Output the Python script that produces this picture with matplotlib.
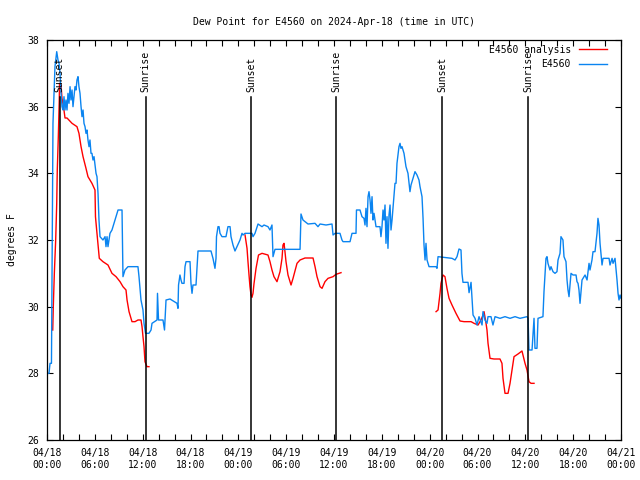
#-------------------------------------------------------------------------------
# Dew point time series for station E4560, observed vs analysis,
# with sunset / sunrise markers (times in hours after 2024-04-18 00:00 UTC)
#-------------------------------------------------------------------------------

import matplotlib
matplotlib.use('Agg')
import matplotlib.pyplot as plt
import matplotlib.dates as mdates
import pandas as pd

start = pd.Timestamp('2024-04-18 00:00')

# observed dew point (E4560)
obs_hours = [0.00, 0.25, 0.38, 0.56, 0.63, 0.75, 0.88, 1.00, 1.22, 1.38, 1.51, 1.63,
             1.76, 1.88, 2.01, 2.13, 2.26, 2.38, 2.51, 2.63, 2.76, 2.89, 3.01, 3.14,
             3.26, 3.39, 3.51, 3.64, 3.76, 3.89, 4.01, 4.14, 4.27, 4.39, 4.52, 4.64,
             4.77, 4.89, 5.02, 5.14, 5.27, 5.39, 5.52, 5.64, 5.77, 5.90, 6.15, 6.27,
             6.40, 6.52, 6.65, 7.02, 7.28, 7.40, 7.53, 7.65, 7.90, 8.15, 8.53, 8.91,
             9.41, 9.53, 9.78, 10.16, 11.41, 11.54, 11.79, 12.04, 12.17, 12.36, 12.79, 13.05,
             13.17, 13.80, 13.86, 13.99, 14.55, 14.74, 14.93, 15.43, 16.31, 16.43, 16.50, 16.68,
             16.81, 16.93, 17.19, 17.31, 17.44, 17.94, 18.06, 18.19, 18.31, 18.69, 18.82, 18.94,
             20.57, 20.82, 21.07, 21.20, 21.26, 21.45, 21.58, 21.70, 21.95, 22.45, 22.70, 22.96,
             23.08, 23.33, 23.58, 23.83, 24.21, 24.46, 24.59, 24.84, 25.71, 25.84, 26.09, 26.47,
             26.97, 27.22, 27.72, 27.97, 28.22, 28.35, 28.60, 31.74, 31.86, 32.11, 32.74, 33.62,
             33.99, 34.25, 35.00, 35.75, 35.88, 36.13, 36.75, 37.00, 37.13, 38.01, 38.26, 38.76,
             38.82, 39.26, 39.51, 39.76, 39.89, 40.01, 40.14, 40.27, 40.39, 40.52, 40.64, 40.77,
             40.89, 41.02, 41.27, 41.77, 41.89, 42.02, 42.15, 42.27, 42.40, 42.52, 42.65, 42.77,
             42.90, 43.03, 43.15, 43.28, 43.40, 43.65, 43.78, 43.90, 44.15, 44.28, 44.40, 44.53,
             44.78, 45.03, 45.28, 45.53, 45.66, 45.91, 46.16, 46.41, 46.66, 46.79, 47.04, 47.17,
             47.29, 47.42, 47.54, 47.67, 47.92, 48.80, 48.92, 49.05, 50.80, 51.18, 51.43, 51.68,
             51.93, 52.05, 52.18, 52.81, 52.94, 53.19, 53.44, 53.69, 53.94, 54.19, 54.57, 54.69,
             54.94, 55.19, 55.32, 55.69, 55.94, 56.20, 56.82, 57.45, 58.08, 58.71, 59.33, 60.21,
             60.34, 60.46, 60.84, 61.09, 61.21, 61.46, 61.59, 62.21, 62.34, 62.47, 62.59, 62.72,
             62.84, 63.09, 63.22, 63.47, 63.72, 63.97, 64.10, 64.35, 64.47, 64.72, 64.85, 65.10,
             65.23, 65.35, 65.48, 65.73, 65.98, 66.36, 66.48, 66.61, 66.73, 66.86, 66.98, 67.11,
             67.24, 67.49, 67.74, 67.99, 68.11, 68.36, 68.49, 68.74, 68.99, 69.11, 69.24, 69.37,
             69.62, 69.75, 70.50, 70.62, 70.88, 71.00, 71.25, 71.50, 71.63, 71.75, 71.88, 72.00]
obs_dewpt = [28.0, 28.0, 28.3, 28.3, 30.9, 35.5, 36.4, 37.2, 37.65, 37.4, 37.3, 37.0,
             36.4, 36.0, 35.9, 36.3, 35.9, 36.2, 35.9, 36.4, 36.1, 36.6, 36.2, 36.5,
             36.0, 36.3, 36.6, 36.5, 36.8, 36.9, 36.6, 36.4, 36.0, 35.7, 35.9, 35.5,
             35.4, 35.2, 35.3, 35.0, 34.8, 35.0, 34.6, 34.6, 34.4, 34.5, 34.0, 33.9,
             33.4, 32.6, 32.1, 32.0, 32.1, 31.8, 32.1, 31.8, 32.2, 32.3, 32.6, 32.9,
             32.9, 30.9, 31.1, 31.2, 31.2, 30.9, 30.2, 29.9, 29.5, 29.2, 29.2, 29.3,
             29.5, 29.6, 30.4, 29.6, 29.6, 29.3, 30.2, 30.23, 30.1, 29.95, 30.65, 30.95,
             30.8, 30.7, 30.7, 31.2, 31.35, 31.35, 30.7, 30.4, 30.65, 30.65, 31.2, 31.67,
             31.67, 31.45, 31.15, 31.45, 32.1, 32.4, 32.4, 32.2, 32.1, 32.1, 32.4, 32.4,
             32.1, 31.85, 31.67, 31.8, 32.0, 32.2, 32.15, 32.2, 32.2, 32.1, 32.2, 32.48,
             32.4, 32.45, 32.4, 32.3, 32.45, 31.5, 31.72, 31.72, 32.78, 32.6, 32.48, 32.5,
             32.4, 32.48, 32.45, 32.48, 32.15, 32.2, 32.2, 32.0, 31.95, 31.95, 32.2, 32.2,
             32.9, 32.9, 32.7, 32.65, 32.45, 32.95, 32.4, 33.3, 33.45, 33.2, 32.8, 33.3,
             32.6, 32.8, 32.4, 32.4, 32.1, 32.4, 32.9, 32.6, 33.05, 31.9, 32.7, 31.75,
             32.75, 33.05, 32.3, 32.6, 32.95, 33.7, 33.7, 34.3, 34.8, 34.9, 34.75, 34.8,
             34.6, 34.2, 34.0, 33.45, 33.65, 33.85, 34.05, 33.95, 33.8, 33.6, 33.3, 32.65,
             31.85, 31.4, 31.9, 31.4, 31.2, 31.2, 31.15, 31.5, 31.45, 31.4, 31.5, 31.73,
             31.7, 31.0, 30.73, 30.73, 30.42, 30.73, 29.75, 29.65, 29.45, 29.7, 29.45, 29.85,
             29.6, 29.5, 29.7, 29.7, 29.45, 29.7, 29.65, 29.7, 29.65, 29.7, 29.65, 29.7,
             29.65, 28.7, 28.7, 29.65, 28.75, 28.75, 29.65, 29.7, 30.45, 31.0, 31.45, 31.5,
             31.3, 31.1, 31.2, 31.05, 31.0, 31.05, 31.4, 31.6, 32.1, 32.0, 31.5, 31.35,
             30.8, 30.5, 30.3, 31.0, 30.95, 30.95, 30.75, 30.7, 30.5, 30.1, 30.45, 30.8,
             30.85, 30.95, 30.8, 31.3, 31.1, 31.4, 31.65, 31.65, 32.2, 32.65, 32.45, 31.9,
             31.25, 31.45, 31.45, 31.25, 31.45, 31.3, 31.45, 30.8, 30.4, 30.2, 30.35, 30.25]

# analysis dew point (E4560 analysis), three separate runs
ana1_hours = [0.72, 0.79, 0.92, 1.09, 1.22, 1.29, 1.42, 1.54, 1.57, 1.76, 1.88, 2.07,
              2.26, 2.51, 3.14, 3.76, 4.01, 4.27, 4.52, 4.89, 5.14, 5.64, 6.02, 6.08,
              6.23, 6.56, 7.02, 7.65, 8.15, 8.66, 9.16, 9.53, 9.91, 10.04, 10.29, 10.66,
              11.04, 11.41, 11.79, 11.92, 12.04, 12.17, 12.29, 12.54, 12.79]
ana1_dewpt = [29.3, 30.0, 31.0, 32.0, 33.1, 34.1, 35.1, 36.2, 36.7, 36.65, 36.25, 36.0,
              35.66, 35.66, 35.5, 35.4, 35.2, 34.8, 34.5, 34.15, 33.9, 33.7, 33.5, 32.7,
              32.3, 31.45, 31.35, 31.25, 31.0, 30.9, 30.75, 30.6, 30.5, 30.2, 29.85, 29.55,
              29.55, 29.6, 29.6, 29.4, 29.1, 28.8, 28.35, 28.2, 28.2]

ana2_hours = [24.84, 25.09, 25.21, 25.34, 25.46, 25.59, 25.71, 25.84, 25.96, 26.22, 26.53, 26.97,
              27.72, 27.97, 28.22, 28.47, 28.85, 29.23, 29.48, 29.60, 29.73, 29.85, 29.98, 30.23,
              30.61, 30.86, 31.36, 31.74, 32.36, 33.37, 33.62, 33.87, 34.25, 34.50, 34.87, 35.25,
              35.88, 36.25, 36.88]
ana2_dewpt = [32.15, 31.75, 31.35, 30.95, 30.6, 30.35, 30.28, 30.4, 30.68, 31.15, 31.55, 31.6,
              31.55, 31.35, 31.1, 30.9, 30.75, 31.05, 31.45, 31.85, 31.9, 31.65, 31.35, 30.95,
              30.65, 30.85, 31.3, 31.4, 31.46, 31.46, 31.2, 30.9, 30.6, 30.55, 30.75, 30.85,
              30.9, 30.97, 31.02]

ana3_hours = [48.80, 49.05, 49.30, 49.42, 49.67, 49.92, 50.17, 50.43, 50.80, 51.30, 51.81, 52.31,
              53.19, 53.57, 54.07, 54.44, 54.69, 54.82, 55.07, 55.19, 55.32, 55.57, 56.07, 56.82,
              57.07, 57.20, 57.45, 57.83, 58.08, 58.33, 58.58, 59.08, 59.58, 59.96, 60.21, 60.46,
              60.71, 61.09]
ana3_dewpt = [29.85, 29.9, 30.4, 30.7, 30.95, 30.9, 30.55, 30.25, 30.05, 29.8, 29.57, 29.55,
              29.55, 29.5, 29.45, 29.6, 29.75, 29.85, 29.5, 29.3, 28.9, 28.45, 28.43, 28.43,
              28.3, 27.85, 27.4, 27.4, 27.7, 28.1, 28.5, 28.58, 28.67, 28.3, 28.1, 27.75,
              27.7, 27.7]

# sun events
sun_hours = [1.57, 12.37, 25.59, 36.25, 49.59, 60.37]
sun_labels = ['Sunset', 'Sunrise', 'Sunset', 'Sunrise', 'Sunset', 'Sunrise']
sun_line_top = 36.29
sun_label_base = 36.44


def to_time(hours):
    return start + pd.to_timedelta(hours, unit='h')


plt.rcParams['font.family'] = ['DejaVu Sans Mono']
plt.rcParams['font.size'] = 7

fig = plt.figure(figsize=(6.4, 4.8), dpi=100)
ax = fig.add_axes((47/640., 40/480., 574/640., 400/480.))

ax.plot(to_time(ana1_hours), ana1_dewpt, color='#ff0000', lw=1.0, label='E4560 analysis')
ax.plot(to_time(ana2_hours), ana2_dewpt, color='#ff0000', lw=1.0)
ax.plot(to_time(ana3_hours), ana3_dewpt, color='#ff0000', lw=1.0)
ax.plot(to_time(obs_hours), obs_dewpt, color='#0a84f0', lw=1.0, label='E4560')

for h, lab in zip(sun_hours, sun_labels):
    t = to_time(h)
    ax.plot([t, t], [26, sun_line_top], color='black', lw=1.1)
    ax.text(t, sun_label_base, lab, rotation=90, ha='center', va='bottom')

# manage plot
ax.set_xlim(to_time(0), to_time(72))
ax.set_ylim(26, 38)
ax.set_yticks([26, 28, 30, 32, 34, 36, 38])
ax.xaxis.set_major_locator(mdates.HourLocator(byhour=range(0, 24, 6)))
ax.xaxis.set_minor_locator(mdates.HourLocator(byhour=range(0, 24, 2)))
ax.xaxis.set_major_formatter(mdates.DateFormatter('%m/%d\n%H:%M'))
ax.tick_params(which='both', direction='in', length=4, width=0.8, top=True, right=True)
ax.tick_params(axis='x', which='major', pad=6)
ax.tick_params(axis='y', pad=6)
for sp in ax.spines.values():
    sp.set_linewidth(0.9)

ax.set_ylabel('degrees F', labelpad=7)
ax.set_title('Dew Point for E4560 on 2024-Apr-18 (time in UTC)', fontsize=7, pad=11)
ax.legend(loc='upper right', bbox_to_anchor=(0.984, 1.0), frameon=False,
          markerfirst=False, handlelength=2.9, handletextpad=0.8,
          borderaxespad=0, borderpad=0.5, labelspacing=0.45)

fig.savefig('out.png', dpi=100)
